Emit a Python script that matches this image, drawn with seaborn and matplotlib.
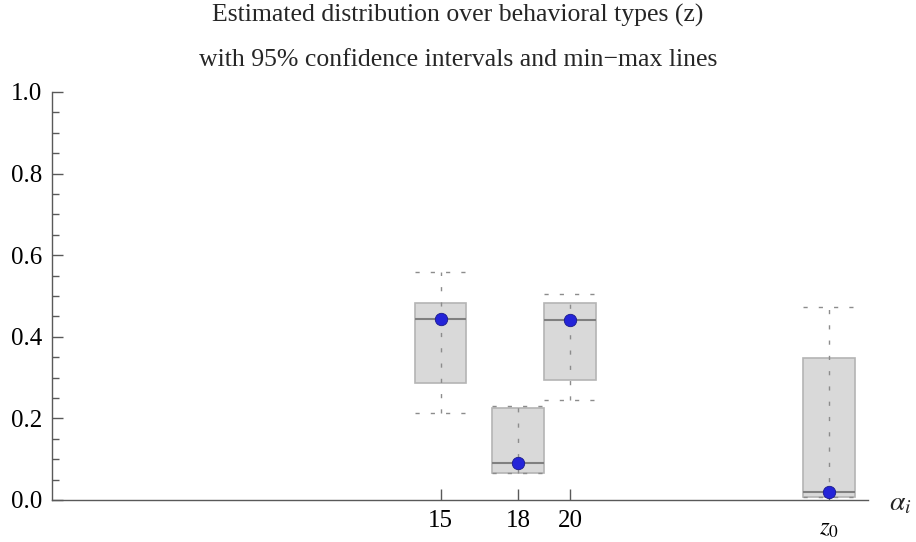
import numpy as np
import matplotlib.pyplot as plt
import matplotlib.transforms as mtransforms
import seaborn as sns
from matplotlib.ticker import MultipleLocator, FormatStrFormatter

# types on the x axis
positions = [15, 18, 20, 30]
tick_labels = ['15', '18', '20', '$z_0$']

# estimates, 95% CI and min-max lines
point_est = [0.444, 0.091, 0.442, 0.020]
ci_low = [0.286, 0.066, 0.293, 0.008]
ci_high = [0.484, 0.225, 0.483, 0.348]
min_vals = [0.214, 0.066, 0.245, 0.008]
max_vals = [0.558, 0.231, 0.505, 0.472]

sns.set_theme(style='ticks')
plt.rcParams['font.family'] = ['Liberation Serif', 'DejaVu Serif']
plt.rcParams['mathtext.fontset'] = 'stix'

fig = plt.figure(figsize=(9.16, 5.42), dpi=100)
ax = fig.add_axes([52 / 916, 42 / 542, (868 - 52) / 916, (500 - 92) / 542])

# boxes from CI, whiskers from min-max
stats = []
for m, lo, hi, mn, mx in zip(point_est, ci_low, ci_high, min_vals, max_vals):
    stats.append(dict(med=m, q1=lo, q3=hi, whislo=mn, whishi=mx, fliers=[]))

dash = (0, (3, 8))
ax.bxp(stats, positions=positions, widths=2, capwidths=2, patch_artist=True,
       showfliers=False, manage_ticks=False,
       boxprops=dict(facecolor='#d9d9d9', edgecolor='#b4b4b4', linewidth=1.2),
       medianprops=dict(color='#808080', linewidth=1.5),
       whiskerprops=dict(linewidth=0),
       capprops=dict(color='#8c8c8c', linewidth=1, linestyle=dash))
ax.vlines(positions, min_vals, max_vals, colors='#8c8c8c', linestyles=dash,
          linewidth=1, zorder=3)

sns.scatterplot(x=positions, y=point_est, ax=ax, s=80, color='#2424d8',
                edgecolor='#1a1a8c', linewidth=0.6, zorder=4, legend=False)

ax.set_xlim(0, 31.5)
ax.set_ylim(0, 1)
ax.set_xticks(positions)
ax.set_xticklabels(tick_labels)
ax.yaxis.set_major_locator(MultipleLocator(0.2))
ax.yaxis.set_minor_locator(MultipleLocator(0.05))
ax.yaxis.set_major_formatter(FormatStrFormatter('%.1f'))

sns.despine(ax=ax)
for s in ['left', 'bottom']:
    ax.spines[s].set_color('#595959')
    ax.spines[s].set_linewidth(1)
ax.tick_params(which='major', direction='in', length=8, width=1, color='#595959',
               labelsize=18, labelcolor='black', pad=7)
ax.tick_params(which='minor', direction='in', length=5, width=1, color='#595959')
ax.tick_params(axis='x', which='minor', length=0)
ax.set_xlabel('')
ax.set_ylabel('')

# z_0 sits a bit lower than the numbers
lab = ax.get_xticklabels()[3]
lab.set_transform(lab.get_transform() +
                  mtransforms.ScaledTranslation(0, -8 / 100, fig.dpi_scale_trans))

ax.annotate(r'$\alpha_i$', xy=(1, 0), xycoords='axes fraction', xytext=(15, -3),
            textcoords='offset points', ha='left', va='center', fontsize=20)

fig.text(0.5, 1 - 15 / 542, 'Estimated distribution over behavioral types (z)',
         ha='center', va='center', fontsize=18.5)
fig.text(0.5, 1 - 60 / 542, 'with 95% confidence intervals and min\u2212max lines',
         ha='center', va='center', fontsize=18.5)

fig.savefig('out.png', dpi=100)
